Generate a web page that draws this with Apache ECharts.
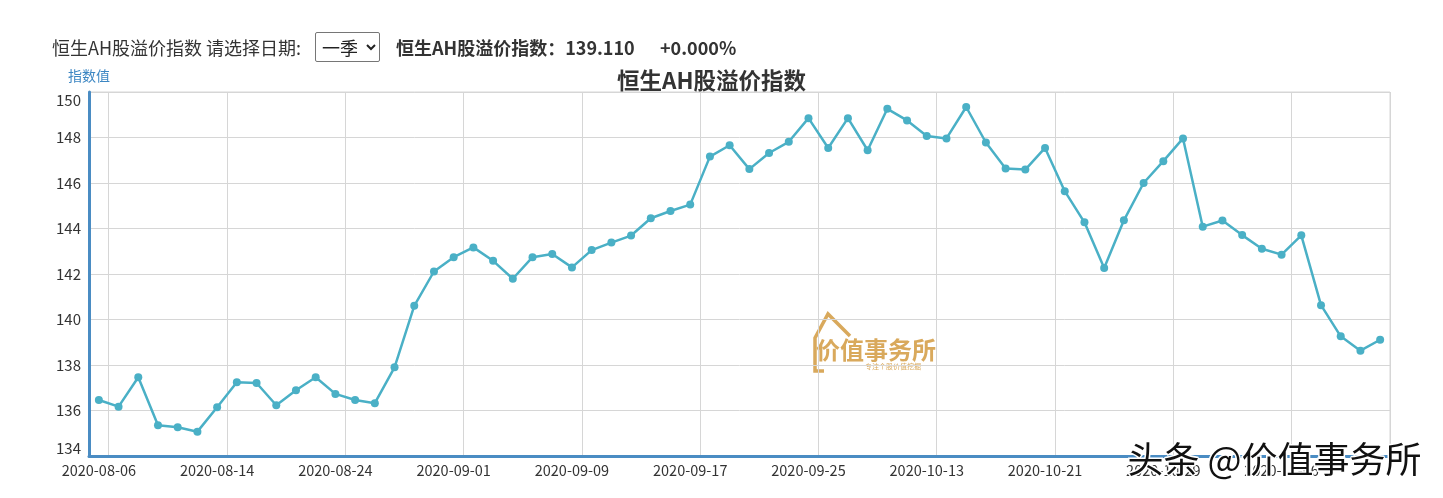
<!DOCTYPE html>
<html>
<head>
<meta charset="utf-8">
<script src="https://cdn.jsdelivr.net/npm/echarts@6/dist/echarts.min.js"></script>
<style>
  body { margin: 0; background: #fff; font-family: "Noto Sans CJK SC", "Noto Sans", sans-serif; color: #333; }
  #wrap { position: relative; width: 1443px; height: 498px; overflow: hidden; }
  #chart { position: absolute; left: 0; top: 0; width: 1443px; height: 498px; }
  .hd { position: absolute; top: 33px; font-size: 18px; line-height: 28px; white-space: nowrap; z-index: 2; }
  .hd b { font-weight: bold; }
  #sel { position: absolute; left: 315px; top: 32px; width: 65px; height: 30px; font-size: 18px; z-index: 2; padding: 0 2px;
         font-family: "Noto Sans CJK SC", sans-serif; border: 1px solid #767676; border-radius: 2px; background: #fff; color: #222; }
</style>
</head>
<body>
<div id="wrap">
  <div id="chart"></div>
  <span class="hd" style="left:52px">恒生AH股溢价指数 请选择日期:</span>
  <select id="sel"><option>一季</option></select>
  <span class="hd" style="left:396px"><b>恒生AH股溢价指数：139.110</b></span>
  <span class="hd" style="left:660px"><b>+0.000%</b></span>
</div>
<script>
    // 交易日
    var dates = ['2020-08-06', '2020-08-07', '2020-08-10', '2020-08-11', '2020-08-12', '2020-08-13',
        '2020-08-14', '2020-08-17', '2020-08-18', '2020-08-19', '2020-08-20', '2020-08-21',
        '2020-08-24', '2020-08-25', '2020-08-26', '2020-08-27', '2020-08-28', '2020-08-31',
        '2020-09-01', '2020-09-02', '2020-09-03', '2020-09-04', '2020-09-07', '2020-09-08',
        '2020-09-09', '2020-09-10', '2020-09-11', '2020-09-14', '2020-09-15', '2020-09-16',
        '2020-09-17', '2020-09-18', '2020-09-21', '2020-09-22', '2020-09-23', '2020-09-24',
        '2020-09-25', '2020-09-28', '2020-09-29', '2020-09-30', '2020-10-09', '2020-10-12',
        '2020-10-13', '2020-10-14', '2020-10-15', '2020-10-16', '2020-10-19', '2020-10-20',
        '2020-10-21', '2020-10-22', '2020-10-23', '2020-10-26', '2020-10-27', '2020-10-28',
        '2020-10-29', '2020-10-30', '2020-11-02', '2020-11-03', '2020-11-04', '2020-11-05',
        '2020-11-06', '2020-11-09', '2020-11-10', '2020-11-11', '2020-11-12', '2020-11-13'];

    // 指数值
    var values = [136.46, 136.17, 137.46, 135.35, 135.26, 135.07, 136.14, 137.24, 137.21, 136.23,
        136.89, 137.46, 136.73, 136.46, 136.32, 137.90, 140.60, 142.11, 142.74, 143.17,
        142.58, 141.79, 142.74, 142.88, 142.29, 143.05, 143.38, 143.69, 144.45, 144.77,
        145.05, 147.16, 147.66, 146.61, 147.32, 147.81, 148.85, 147.54, 148.85, 147.44,
        149.26, 148.75, 148.07, 147.96, 149.34, 147.78, 146.64, 146.59, 147.54, 145.64,
        144.27, 142.26, 144.36, 146.00, 146.96, 147.96, 144.08, 144.35, 143.71, 143.11,
        142.85, 143.70, 140.63, 139.26, 138.63, 139.11];

    var yMin = 134, yMax = 150, yStep = 2;

    var chart = echarts.init(document.getElementById('chart'));

    chart.setOption({
        animation: false,
        textStyle: { fontFamily: 'Noto Sans CJK SC' },
        title: {
            text: '恒生AH股溢价指数',
            left: 612,
            top: 64,
            textStyle: { fontSize: 22.5, fontWeight: 'bold', color: '#333' }
        },
        grid: {
            left: 89,
            right: 53,
            top: 92,
            bottom: 42,
            show: true,
            borderColor: '#d6d6d6',
            borderWidth: 1
        },
        xAxis: {
            type: 'category',
            boundaryGap: true,
            data: dates,
            axisLine: { lineStyle: { color: '#4a8cc3', width: 3 } },
            axisTick: {
                interval: function (i) { return i % 6 === 1; },
                length: 5,
                lineStyle: { color: '#666' }
            },
            axisLabel: { interval: 5, color: '#333', fontSize: 14.5, margin: 7 },
            splitLine: {
                show: true,
                interval: function (i) { return i % 6 === 1; },
                lineStyle: { color: '#d6d6d6' }
            }
        },
        yAxis: {
            type: 'value',
            min: yMin,
            max: yMax,
            interval: yStep,
            name: '指数值',
            nameLocation: 'end',
            nameGap: 9,
            nameTextStyle: { color: '#3d87c3', fontSize: 14, align: 'center' },
            axisLine: { show: true, lineStyle: { color: '#4a8cc3', width: 3 } },
            axisTick: { show: false },
            axisLabel: {
                color: '#333',
                fontSize: 15,
                margin: 8,
                formatter: function (v) {
                    if (v === yMax) return '{t|' + v + '}';
                    if (v === yMin) return '{b|' + v + '}';
                    return v;
                },
                rich: {
                    t: { color: '#333', fontSize: 15, padding: [16, 0, 0, 0] },
                    b: { color: '#333', fontSize: 15, padding: [0, 0, 16, 0] }
                }
            },
            splitLine: { lineStyle: { color: '#d6d6d6' } }
        },
        series: [{
            name: '恒生AH股溢价指数',
            type: 'line',
            data: values,
            symbol: 'circle',
            symbolSize: 8,
            itemStyle: { color: '#4ab0c6' },
            lineStyle: { color: '#4ab0c6', width: 2.5 }
        }],
        graphic: [
            {
                type: 'group',
                left: 806,
                top: 311,
                z: 50,
                children: [
                    { type: 'rect', shape: { x: 0, y: 0, width: 135, height: 62 }, style: { fill: '#fff' } },
                    {
                        type: 'polyline',
                        shape: { points: [[18, 60], [9, 60], [9, 27], [22, 3], [44, 25]] },
                        style: { stroke: '#d9a95c', lineWidth: 3.5, fill: null }
                    },
                    {
                        type: 'text',
                        style: { x: 10, y: 39, text: '价值事务所', fill: '#d9a95c', fontSize: 24, fontWeight: 'bold',
                            fontFamily: 'Noto Sans CJK SC', verticalAlign: 'middle' }
                    },
                    {
                        type: 'text',
                        style: { x: 59, y: 55, text: '专注个股价值挖掘', fill: '#d9a95c', fontSize: 7,
                            fontFamily: 'Noto Sans CJK SC', verticalAlign: 'middle' }
                    }
                ]
            },
            {
                type: 'text',
                left: 1126,
                top: 440,
                z: 60,
                style: {
                    text: '头条 @价值事务所',
                    fontSize: 36,
                    fontFamily: 'Noto Sans CJK SC',
                    fill: '#111',
                    stroke: '#fff',
                    lineWidth: 3
                }
            }
        ]
    });
</script>
</body>
</html>
